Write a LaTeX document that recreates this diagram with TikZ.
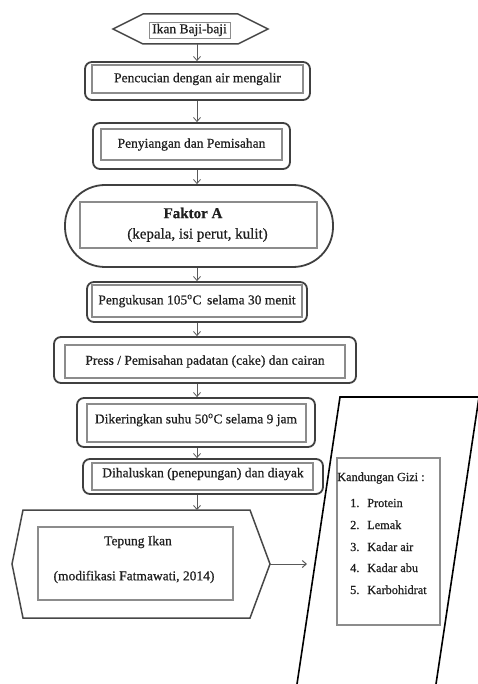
\documentclass[tikz,border=0pt]{standalone}
\usepackage{fontspec}
\setmainfont[FakeBold=0.6]{Liberation Serif}
\usetikzlibrary{arrows.meta,calc}
\begin{document}
\begin{tikzpicture}[x=1pt,y=-1pt,
  outerbox/.style={draw=black!75,line width=1.8pt,rounded corners=7pt,inner sep=0pt},
  innerbox/.style={draw=black!45,line width=1.3pt,inner sep=0pt,text=black!88,
    font=\fontsize{13.5}{16}\selectfont},
  ghost/.style={inner sep=0pt,outer sep=0pt},
  hexline/.style={draw=black!72,line width=1.5pt,line join=miter},
  para/.style={draw=black,line width=1.6pt},
  arr/.style={draw=black!65,line width=0.8pt,-{Straight Barb[length=4pt,width=7pt]}},
  txt/.style={inner sep=0pt,text=black!88,font=\fontsize{13.5}{16}\selectfont},
  listtxt/.style={inner sep=0pt,text=black!88,font=\fontsize{12.3}{14}\selectfont}]
\useasboundingbox (0,0) rectangle (478,684);
\fill[white] (0,0) rectangle (478,684);
\coordinate (ax) at (197,0);

% 1 top hexagon
\node[ghost,minimum width=155pt,minimum height=30pt] (o1) at (190.5,29) {};
\draw[hexline] (o1.west) -- ($(o1.north west)+(30,0)$) -- ($(o1.north east)+(-30,0)$)
  -- (o1.east) -- ($(o1.south east)+(-30,0)$) -- ($(o1.south west)+(30,0)$) -- cycle;
\node[innerbox,line width=0.9pt,minimum width=81pt,minimum height=16pt] (i1) at (189.5,30) {Ikan Baji-baji};

% 2
\node[outerbox,minimum width=225pt,minimum height=38pt] (o2) at (197.5,81) {};
\node[innerbox,minimum width=211pt,minimum height=28pt] (i2) at (197.5,79) {Pencucian dengan air mengalir};

% 3
\node[outerbox,minimum width=197pt,minimum height=46pt] (o3) at (191.5,146) {};
\node[innerbox,minimum width=181pt,minimum height=31pt] (i3) at (191.5,144.5) {Penyiangan dan Pemisahan};

% 4
\node[outerbox,rounded corners=40pt,minimum width=268pt,minimum height=82pt] (o4) at (199,226) {};
\node[innerbox,minimum width=237pt,minimum height=46pt] (i4) at (198.5,225) {};
\node[txt,font=\fontsize{15}{18}\selectfont\bfseries] (t4a) at (193,213) {Faktor A};
\node[txt,font=\fontsize{15}{18}\selectfont] (t4b) at (197.5,235) {(kepala, isi perut, kulit)};

% 5
\node[outerbox,minimum width=220pt,minimum height=40pt] (o5) at (197,302) {};
\node[innerbox,minimum width=210pt,minimum height=32pt] (i5) at (197,301) {Pengukusan 105\textsuperscript{o}C\, selama 30 menit};

% 6
\node[outerbox,minimum width=302pt,minimum height=46pt] (o6) at (205,360) {};
\node[innerbox,minimum width=280pt,minimum height=33pt] (i6) at (205,361.5) {Press / Pemisahan padatan (cake) dan cairan};

% 7
\node[outerbox,minimum width=238pt,minimum height=49pt] (o7) at (196,422.5) {};
\node[innerbox,minimum width=219pt,minimum height=38pt] (i7) at (196.5,423) {};
\node[txt] (t7) at (196,420) {Dikeringkan suhu 50\textsuperscript{o}C selama 9 jam};

% 8
\node[outerbox,minimum width=240pt,minimum height=35pt] (o8) at (203,476.5) {};
\node[innerbox,minimum width=221pt,minimum height=27pt] (i8) at (202.5,476.5) {};
\node[txt] (t8) at (203,474) {Dihaluskan (penepungan) dan diayak};

% 9 Tepung hexagon
\node[ghost,minimum width=258pt,minimum height=108pt] (o9) at (141,564) {};
\draw[hexline] (o9.west) -- ($(o9.north west)+(11,0)$) -- ($(o9.north east)+(-20,0)$)
  -- (o9.east) -- ($(o9.south east)+(-20,0)$) -- ($(o9.south west)+(11,0)$) -- cycle;
\node[innerbox,minimum width=195pt,minimum height=73pt] (i9) at (135.5,563.5) {};
\node[txt] (t9a) at (138,542) {Tepung Ikan};
\node[txt] (t9b) at (134,577) {(modifikasi Fatmawati, 2014)};

% connectors
\draw[arr] (o1.south -| ax) -- (o2.north -| ax);
\draw[arr] (o2.south -| ax) -- (o3.north -| ax);
\draw[arr] (o3.south -| ax) -- (o4.north -| ax);
\draw[arr] (o4.south -| ax) -- (o5.north -| ax);
\draw[arr] (o5.south -| ax) -- (o6.north -| ax);
\draw[arr] (o6.south -| ax) -- (o7.north -| ax);
\draw[arr] (o7.south -| ax) -- (o8.north -| ax);
\draw[arr] (o8.south -| ax) -- (o9.north -| ax);
\coordinate (pend) at (307,564);
\draw[arr,line width=1pt] (o9.east) -- (pend);

% parallelogram
\begin{scope}
\clip (0,0) rectangle (478,684);
\draw[para] (294.6,700) -- (340,397) -- (479,397) -- (433.6,700);
\end{scope}
\node[innerbox,minimum width=103pt,minimum height=167pt] (ib) at (388.5,541.5) {};
\node[listtxt,anchor=base west] (k0) at (337,481) {Kandungan Gizi :};
\node[listtxt,anchor=base west] (k1n) at (350,507) {1.};
\node[listtxt,anchor=base west] (k1) at (367,507) {Protein};
\node[listtxt,anchor=base west] (k2n) at (350,529) {2.};
\node[listtxt,anchor=base west] (k2) at (367,529) {Lemak};
\node[listtxt,anchor=base west] (k3n) at (350,551) {3.};
\node[listtxt,anchor=base west] (k3) at (367,551) {Kadar air};
\node[listtxt,anchor=base west] (k4n) at (350,572) {4.};
\node[listtxt,anchor=base west] (k4) at (367,572) {Kadar abu};
\node[listtxt,anchor=base west] (k5n) at (350,594) {5.};
\node[listtxt,anchor=base west] (k5) at (367,594) {Karbohidrat};
\end{tikzpicture}
\end{document}
